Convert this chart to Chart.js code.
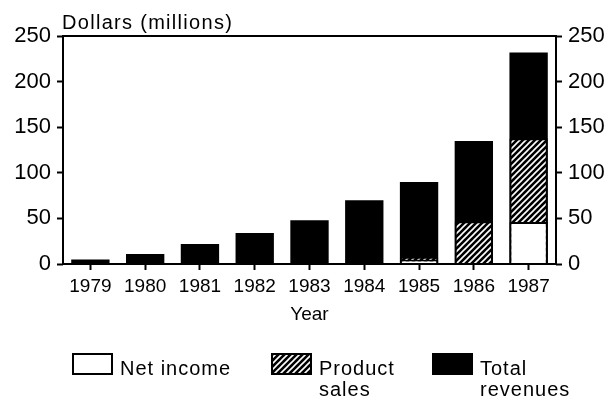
<!DOCTYPE html>
<html lang="en">
<head>
<meta charset="UTF-8">
<script src="https://cdn.jsdelivr.net/npm/chart.js"></script>
<style>
  html, body { margin: 0; padding: 0; background: #fff; }
  #wrap { width: 615px; height: 400px; }
</style>
</head>
<body>
<div id="wrap"><canvas id="revChart"></canvas></div>
<script>
// chart data
var years = ['1979', '1980', '1981', '1982', '1983', '1984', '1985', '1986', '1987'];
var totalRevenues = [5, 11, 22, 34, 48, 70, 90, 135, 232];
var productSales = [null, null, null, null, null, null, 8, 47, 138];
var netIncome = [null, null, null, null, null, null, 5, null, 46];
var yTicks = [0, 50, 100, 150, 200, 250];
var seriesNames = ['Net income', 'Product sales', 'Total revenues'];

var FONT = 'Liberation Sans, Arial, sans-serif';

// hatch fill: black with white diagonal stripes
function makeHatch() {
  var c = document.createElement('canvas');
  c.width = 6; c.height = 6;
  var g = c.getContext('2d');
  g.fillStyle = '#000';
  g.fillRect(0, 0, 6, 6);
  g.strokeStyle = '#fff';
  g.lineWidth = 1.6;
  g.beginPath();
  g.moveTo(-1, 7); g.lineTo(7, -1);
  g.moveTo(-4, 4); g.lineTo(4, -4);
  g.moveTo(2, 10); g.lineTo(10, 2);
  g.stroke();
  return g.createPattern(c, 'repeat');
}
var hatch = makeHatch();

// frame, top title and legend
var decor = {
  id: 'decor',
  afterDatasetsDraw: function (chart) {
    var ctx = chart.ctx, a = chart.chartArea;
    ctx.save();
    ctx.strokeStyle = '#000';
    ctx.lineWidth = 2;
    ctx.strokeRect(a.left, a.top, a.right - a.left, a.bottom - a.top);
    ctx.restore();
  },
  afterDraw: function (chart) {
    var ctx = chart.ctx, a = chart.chartArea;
    ctx.save();
    ctx.fillStyle = '#000';
    ctx.textBaseline = 'alphabetic';
    ctx.letterSpacing = '1.3px';
    ctx.font = '20px ' + FONT;
    ctx.fillText('Dollars (millions)', a.left - 1, 29);

    // legend
    ctx.letterSpacing = '1px';
    ctx.strokeStyle = '#000';
    ctx.lineWidth = 2;
    var boxes = [
      { x: 73, fill: '#fff', lines: ['Net income'] },
      { x: 272, fill: hatch, lines: ['Product', 'sales'] },
      { x: 433, fill: '#000', lines: ['Total', 'revenues'] }
    ];
    boxes.forEach(function (b) {
      ctx.fillStyle = b.fill;
      ctx.fillRect(b.x, 354, 39, 20);
      ctx.strokeRect(b.x, 354, 39, 20);
      ctx.fillStyle = '#000';
      b.lines.forEach(function (t, j) {
        ctx.fillText(t, b.x + 47, 375 + j * 21);
      });
    });
    ctx.restore();
  }
};

var tickGrid = {
  drawOnChartArea: false,
  drawTicks: true,
  tickLength: 6,
  tickWidth: 2,
  tickColor: '#000'
};

new Chart(document.getElementById('revChart'), {
  type: 'bar',
  data: {
    labels: years,
    datasets: [
      { label: seriesNames[0], data: netIncome, backgroundColor: '#fff', borderColor: '#000', borderWidth: 2 },
      { label: seriesNames[1], data: productSales, backgroundColor: hatch, borderColor: '#000', borderWidth: 2 },
      { label: seriesNames[2], data: totalRevenues, backgroundColor: '#000', borderColor: '#000', borderWidth: 0 }
    ]
  },
  options: {
    responsive: true,
    maintainAspectRatio: false,
    animation: false,
    events: [],
    datasets: { bar: { barPercentage: 0.7, categoryPercentage: 1 } },
    layout: { padding: { top: 36, left: 0, right: 0, bottom: 0 } },
    plugins: { legend: { display: false }, tooltip: { enabled: false } },
    scales: {
      x: {
        stacked: true,
        grid: Object.assign({ offset: false }, tickGrid),
        border: { display: false },
        ticks: { color: '#000', font: { family: FONT, size: 19 }, padding: 5, maxRotation: 0 },
        title: { display: true, text: 'Year', color: '#000', font: { family: FONT, size: 19 }, padding: { top: 0, bottom: 74 } },
        afterFit: function (s) { s.height = 136; }
      },
      y: {
        stacked: false,
        position: 'left',
        min: 0, max: 250,
        grid: tickGrid,
        border: { display: false },
        afterBuildTicks: function (s) { s.ticks = yTicks.map(function (v) { return { value: v }; }); },
        ticks: { color: '#000', font: { family: FONT, size: 22 }, padding: 6 },
        afterFit: function (s) { s.width = 63; }
      },
      y2: {
        position: 'right',
        min: 0, max: 250,
        grid: tickGrid,
        border: { display: false },
        afterBuildTicks: function (s) { s.ticks = yTicks.map(function (v) { return { value: v }; }); },
        ticks: { color: '#000', font: { family: FONT, size: 22 }, padding: 6 },
        afterFit: function (s) { s.width = 59; }
      }
    }
  },
  plugins: [decor]
});
</script>
</body>
</html>
